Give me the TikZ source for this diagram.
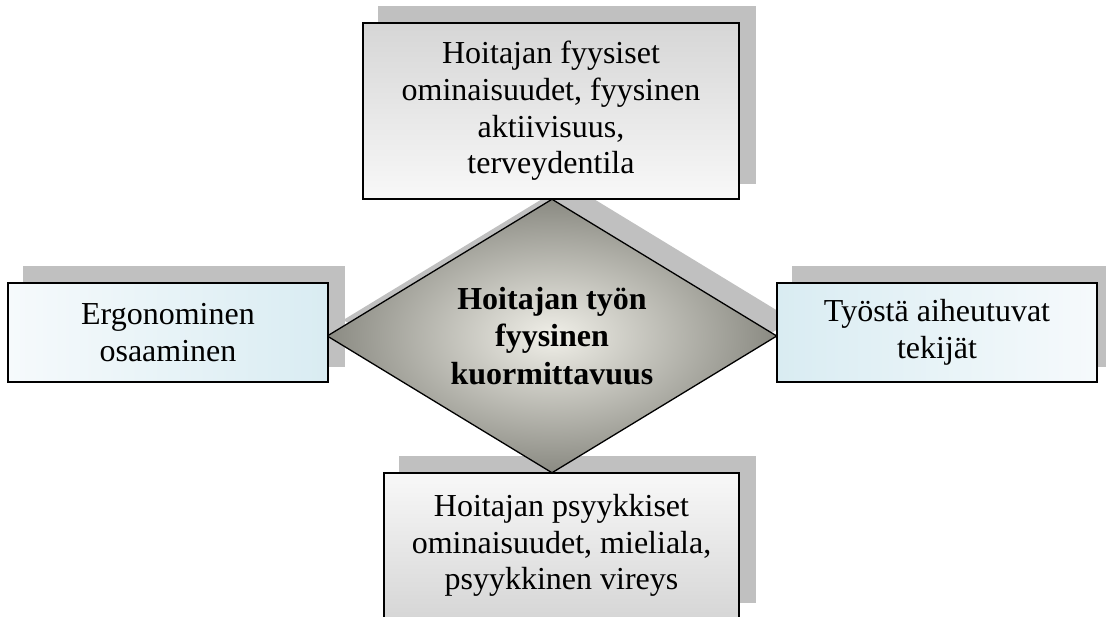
\documentclass[tikz,border=0pt]{standalone}
\usepackage{fontspec}
\setmainfont{Liberation Serif}
\usetikzlibrary{shapes.geometric,shadows,backgrounds}
\definecolor{shadowc}{HTML}{C0C0C0}
\definecolor{greytop}{HTML}{D6D6D6}
\definecolor{greylow}{HTML}{F8F8F8}
\definecolor{bluedark}{HTML}{D9ECF2}
\definecolor{bluelight}{HTML}{F6FAFC}
\definecolor{dcenter}{HTML}{F0EFE8}
\definecolor{douter}{HTML}{8A8A82}
\tikzset{
  txt/.style={font=\fontsize{32}{36.6}\selectfont, align=center, text=black},
  boxbase/.style={txt, rectangle, draw=black, line width=1.5pt, inner sep=0pt},
  topbox/.style={boxbase, minimum width=376pt, minimum height=176pt, top color=greytop, bottom color=greylow},
  botbox/.style={boxbase, minimum width=355pt, minimum height=145pt, top color=greylow, bottom color=greytop},
  leftbox/.style={boxbase, minimum width=320pt, minimum height=99pt, left color=bluelight, right color=bluedark},
  rightbox/.style={boxbase, minimum width=320pt, minimum height=99pt, left color=bluedark, right color=bluelight},
  centerdiamond/.style={txt, font=\fontsize{32}{37.5}\selectfont\bfseries, diamond, aspect=1.64, inner sep=0pt,
    minimum width=450pt, minimum height=274pt, draw=black, line width=1.3pt,
    inner color=dcenter, outer color=douter,
    general shadow={fill=shadowc, shadow xshift=16pt, shadow yshift=16pt}},
  boxshadow/.style={fill=shadowc}
}
\begin{document}
\begin{tikzpicture}[x=1pt,y=-1pt]
\useasboundingbox (0,0) rectangle (1106,616);
\node[centerdiamond] (c) at (552,336) {Hoitajan työn\\fyysinen\\kuormittavuus};
\node[topbox] (t) at (551,111) {Hoitajan fyysiset\\ominaisuudet, fyysinen\\aktiivisuus,\\terveydentila};
\node[leftbox] (l) at (168,332.5) {Ergonominen\\osaaminen};
\node[rightbox] (r) at (937,332.5) {Työstä aiheutuvat\\tekijät};
\node[botbox] (b) at (561.5,545.5) {Hoitajan psyykkiset\\ominaisuudet, mieliala,\\psyykkinen vireys};
\begin{pgfonlayer}{background}
\foreach \n in {t,l,r,b}{
  \fill[boxshadow] ([shift={(16pt,16pt)}]\n.south west) rectangle ([shift={(16pt,16pt)}]\n.north east);
}
\end{pgfonlayer}
\end{tikzpicture}
\end{document}
